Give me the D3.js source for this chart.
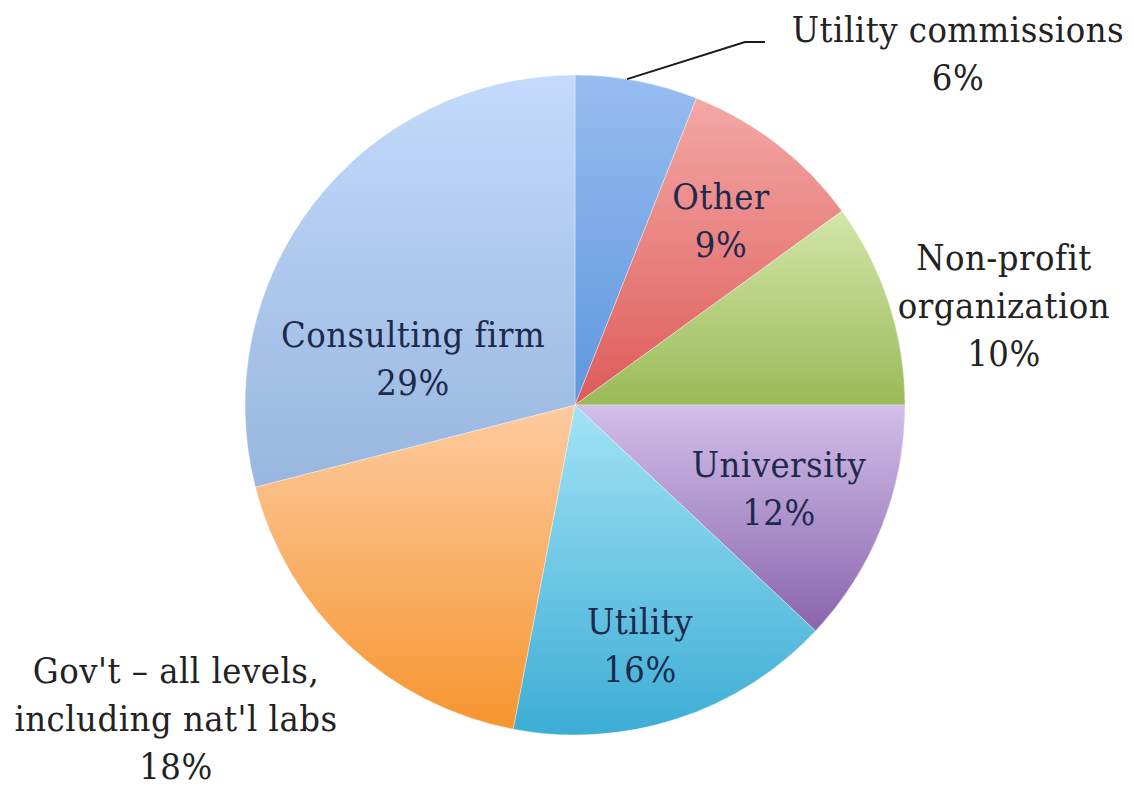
<!DOCTYPE html>
<html>
<head>
<meta charset="utf-8">
<script src="https://cdn.jsdelivr.net/npm/d3@7"></script>
<style>
  html, body { margin: 0; padding: 0; background: #fff; }
  svg { display: block; }
  text { font-family: "DejaVu Serif Condensed", "DejaVu Serif", serif; font-stretch: condensed; letter-spacing: 0.5px; }
</style>
</head>
<body>
<svg id="chart" width="1134" height="786"></svg>
<script>
// Respondent affiliation, share of total (%), clockwise from 12 o'clock
const categories = ["Utility commissions", "Other", "Non-profit organization", "University", "Utility", "Gov't – all levels, including nat'l labs", "Consulting firm"];
const values = [6, 9, 10, 12, 16, 18, 29];
// Label lines as printed on the chart
const labelLines = [
  ["Utility commissions"],
  ["Other"],
  ["Non-profit", "organization"],
  ["University"],
  ["Utility"],
  ["Gov't – all levels,", "including nat'l labs"],
  ["Consulting firm"]
];
// Gradient stops (top, bottom) for each slice
const topColors = ["#97bdf0", "#f4a8a6", "#d3e6a8", "#d2bfe9", "#a2e3f5", "#fdcba0", "#c3dafb"];
const bottomColors = ["#5e97de", "#dd5b59", "#9aba58", "#8a64ae", "#3cadd5", "#f7952f", "#98b6df"];

const svg = d3.select("#chart");
const cx = 575, cy = 405, R = 330;

const defs = svg.append("defs");
values.forEach((v, i) => {
  const g = defs.append("linearGradient")
    .attr("id", "grad" + i)
    .attr("x1", 0).attr("y1", 0).attr("x2", 0).attr("y2", 1);
  g.append("stop").attr("offset", "0%").attr("stop-color", topColors[i]);
  g.append("stop").attr("offset", "100%").attr("stop-color", bottomColors[i]);
});

const pie = d3.pie().sort(null).value(d => d)(values);
const arc = d3.arc().innerRadius(0).outerRadius(R);

const gPie = svg.append("g").attr("transform", `translate(${cx},${cy})`);
gPie.selectAll("path.slice")
  .data(pie)
  .join("path")
  .attr("class", "slice")
  .attr("d", arc)
  .attr("fill", (d, i) => `url(#grad${i})`)
  .attr("stroke", "rgba(255,255,255,0.35)")
  .attr("stroke-width", 1);

// Label anchors (centre of first line) and whether the label sits on the slice
const labelSpec = [
  { x: 958, y: 30, inside: false },
  { x: 721, y: 197, inside: true },
  { x: 1004, y: 258, inside: false },
  { x: 779, y: 465, inside: true },
  { x: 640, y: 622, inside: true },
  { x: 176, y: 671, inside: false },
  { x: 413, y: 335, inside: true }
];

const fontSize = 36, lineH = 48;
const gLabels = svg.append("g");
pie.forEach((d, i) => {
  const spec = labelSpec[i];
  const lines = labelLines[i].concat([values[i] + "%"]);
  const t = gLabels.append("text")
    .attr("text-anchor", "middle")
    .attr("font-size", fontSize)
    .attr("fill", spec.inside ? "#1d2a4c" : "#222222");
  lines.forEach((ln, k) => {
    t.append("tspan").attr("x", spec.x).attr("y", spec.y + k * lineH + 12).text(ln);
  });
});

// Leader line for the small slice at the top
const a0 = (pie[0].startAngle + pie[0].endAngle) / 2 - 0.03;
const p0 = [cx + Math.sin(a0) * R, cy - Math.cos(a0) * R];
svg.append("polyline")
  .attr("points", [[p0[0], p0[1]], [745, 42], [765, 42]].map(p => p.join(",")).join(" "))
  .attr("fill", "none")
  .attr("stroke", "#1a1a1a")
  .attr("stroke-width", 2);
</script>
</body>
</html>
